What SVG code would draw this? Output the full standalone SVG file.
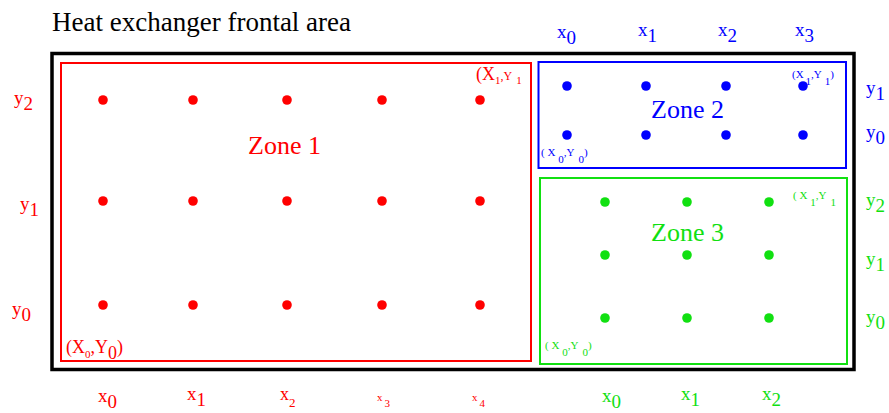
<svg xmlns="http://www.w3.org/2000/svg" width="889" height="413" viewBox="0 0 889 413">
<style>
text{font-family:"Liberation Serif","Times New Roman",serif}
.r{fill:#ff0000}.b{fill:#0000ff}.g{fill:#11e011}
.lab{font-size:19px}
.sm{font-size:11px}
.zone{font-size:26px}
</style>
<rect width="889" height="413" fill="#fff"/>
<text x="52" y="31" font-size="27" fill="#000">Heat exchanger frontal area</text>
<g id="frame"><rect x="52" y="53.5" width="802" height="316" fill="none" stroke="#000" stroke-width="3.5"/></g>

<g id="zone1">
<rect x="61" y="63" width="470" height="298" fill="none" stroke="#ff0000" stroke-width="2"/>
<g class="r">
<circle cx="103" cy="100" r="4.8"/><circle cx="193" cy="100" r="4.8"/><circle cx="287" cy="100" r="4.8"/><circle cx="382" cy="100" r="4.8"/><circle cx="480" cy="100" r="4.8"/>
<circle cx="103" cy="201" r="4.8"/><circle cx="193" cy="201" r="4.8"/><circle cx="287" cy="201" r="4.8"/><circle cx="382" cy="201" r="4.8"/><circle cx="480" cy="201" r="4.8"/>
<circle cx="103" cy="305" r="4.8"/><circle cx="193" cy="305" r="4.8"/><circle cx="287" cy="305" r="4.8"/><circle cx="382" cy="305" r="4.8"/><circle cx="480" cy="305" r="4.8"/>
</g>
<text class="r zone" x="248" y="154">Zone 1</text>
<text class="r" x="476" y="80" font-size="18">(X<tspan font-size="11" dy="4">1</tspan><tspan font-size="12" dy="-4">,Y</tspan><tspan font-size="11" dx="4" dy="4">1</tspan></text>
<text class="r" x="66" y="353" font-size="18">(X<tspan font-size="11" dy="5">0</tspan><tspan dy="-5">,Y</tspan><tspan dy="6">0</tspan><tspan dy="-6">)</tspan></text>
<text class="r lab" x="98" y="402">x<tspan dy="6">0</tspan></text>
<text class="r lab" x="187" y="400">x<tspan dy="6">1</tspan></text>
<text class="r" x="280" y="400" font-size="18">x<tspan font-size="13" dy="7">2</tspan></text>
<text class="r" x="377" y="401" font-size="11">x<tspan dx="2" dy="6">3</tspan></text>
<text class="r" x="472" y="401" font-size="11">x<tspan dx="2" dy="6">4</tspan></text>
<text class="r lab" x="14" y="104">y<tspan dy="6">2</tspan></text>
<text class="r lab" x="20" y="210">y<tspan dy="6">1</tspan></text>
<text class="r lab" x="12" y="315">y<tspan dy="6">0</tspan></text>
</g>

<g id="zone2">
<rect x="538.5" y="62" width="307.5" height="106" fill="none" stroke="#0000ff" stroke-width="2"/>
<g class="b">
<circle cx="567" cy="86" r="4.8"/><circle cx="646" cy="86" r="4.8"/><circle cx="726" cy="86" r="4.8"/><circle cx="803" cy="86" r="4.8"/>
<circle cx="567" cy="135" r="4.8"/><circle cx="646" cy="135" r="4.8"/><circle cx="726" cy="135" r="4.8"/><circle cx="803" cy="135" r="4.8"/>
</g>
<text class="b zone" x="651" y="118">Zone 2</text>
<text class="b sm" x="792" y="78">(X<tspan dx="2" dy="7">1</tspan><tspan dy="-7">,Y</tspan><tspan dx="3" dy="7">1</tspan><tspan dy="-7">)</tspan></text>
<text class="b sm" x="541" y="156">( X<tspan dx="3" dy="7">0</tspan><tspan dy="-7">,Y</tspan><tspan dx="4" dy="7">0</tspan><tspan dy="-7">)</tspan></text>
<text class="b lab" x="557" y="38">x<tspan dy="6">0</tspan></text>
<text class="b lab" x="638" y="36">x<tspan dy="6">1</tspan></text>
<text class="b lab" x="718" y="36">x<tspan dy="6">2</tspan></text>
<text class="b lab" x="795" y="36">x<tspan dy="6">3</tspan></text>
<text class="b lab" x="866" y="94">y<tspan dy="6">1</tspan></text>
<text class="b lab" x="866" y="138">y<tspan dy="6">0</tspan></text>
</g>

<g id="zone3">
<rect x="540" y="178" width="307" height="186" fill="none" stroke="#11e011" stroke-width="2"/>
<g class="g">
<circle cx="605" cy="202" r="4.8"/><circle cx="687" cy="202" r="4.8"/><circle cx="769" cy="202" r="4.8"/>
<circle cx="605" cy="255" r="4.8"/><circle cx="687" cy="255" r="4.8"/><circle cx="769" cy="255" r="4.8"/>
<circle cx="605" cy="318" r="4.8"/><circle cx="687" cy="318" r="4.8"/><circle cx="769" cy="318" r="4.8"/>
</g>
<text class="g zone" x="651" y="241">Zone 3</text>
<text class="g sm" x="793" y="199">( X<tspan dx="3" dy="7">1</tspan><tspan dy="-7">,Y</tspan><tspan dx="4" dy="7">1</tspan></text>
<text class="g sm" x="545" y="349">( X<tspan dx="3" dy="7">0</tspan><tspan dy="-7">,Y</tspan><tspan dx="4" dy="7">0</tspan><tspan dy="-7">)</tspan></text>
<text class="g lab" x="602" y="402">x<tspan dy="6">0</tspan></text>
<text class="g lab" x="681" y="400">x<tspan dy="6">1</tspan></text>
<text class="g lab" x="762" y="400">x<tspan dy="6">2</tspan></text>
<text class="g lab" x="866" y="206">y<tspan dy="6">2</tspan></text>
<text class="g lab" x="866" y="265">y<tspan dy="6">1</tspan></text>
<text class="g lab" x="866" y="323">y<tspan dy="6">0</tspan></text>
</g>
<g id="connectors"/>
</svg>
